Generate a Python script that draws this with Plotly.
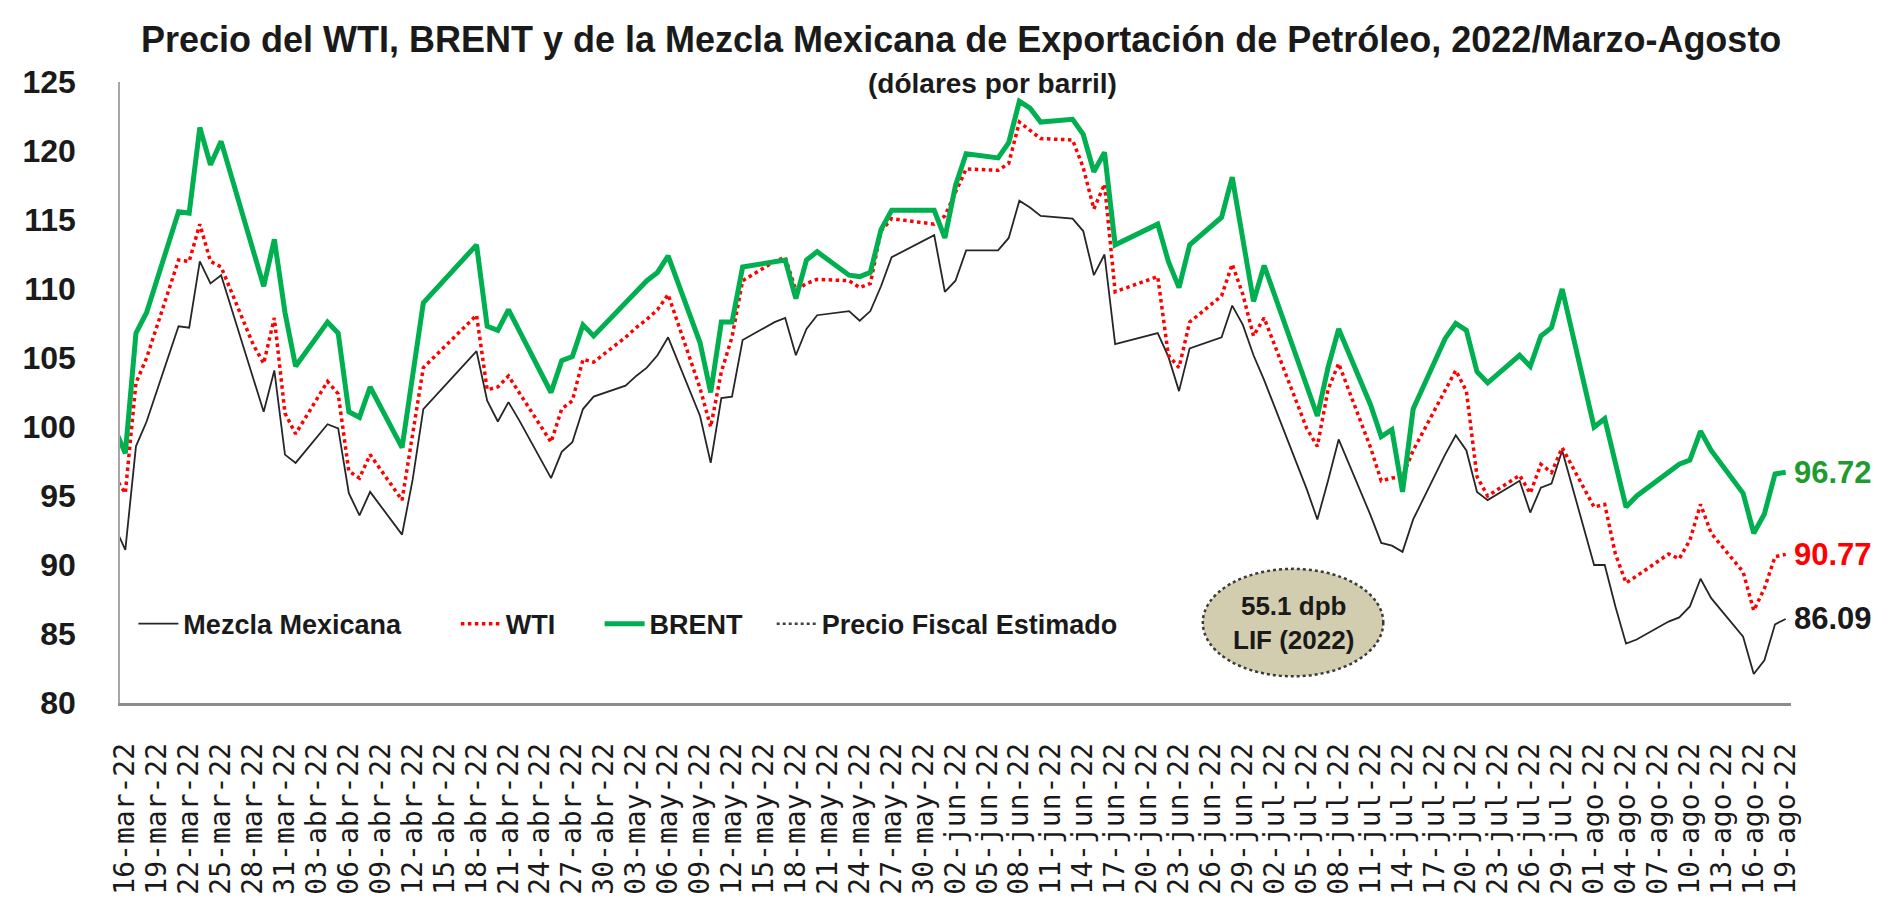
import plotly.graph_objects as go

# Días hábiles con cotización (mar-ago 2022)
DATES = [
    "2022-03-15", "2022-03-16", "2022-03-17", "2022-03-18", "2022-03-21", "2022-03-22",
    "2022-03-23", "2022-03-24", "2022-03-25", "2022-03-28", "2022-03-29", "2022-03-30",
    "2022-03-31",
    "2022-04-01", "2022-04-04", "2022-04-05", "2022-04-06", "2022-04-07", "2022-04-08",
    "2022-04-11", "2022-04-12", "2022-04-13", "2022-04-18", "2022-04-19", "2022-04-20",
    "2022-04-21", "2022-04-22", "2022-04-25", "2022-04-26", "2022-04-27", "2022-04-28",
    "2022-04-29",
    "2022-05-02", "2022-05-03", "2022-05-04", "2022-05-05", "2022-05-06", "2022-05-09",
    "2022-05-10", "2022-05-11", "2022-05-12", "2022-05-13", "2022-05-16", "2022-05-17",
    "2022-05-18", "2022-05-19", "2022-05-20", "2022-05-23", "2022-05-24", "2022-05-25",
    "2022-05-26", "2022-05-27", "2022-05-31",
    "2022-06-01", "2022-06-02", "2022-06-03", "2022-06-06", "2022-06-07", "2022-06-08",
    "2022-06-09", "2022-06-10", "2022-06-13", "2022-06-14", "2022-06-15", "2022-06-16",
    "2022-06-17", "2022-06-21", "2022-06-22", "2022-06-23", "2022-06-24", "2022-06-27",
    "2022-06-28", "2022-06-29", "2022-06-30",
    "2022-07-01", "2022-07-05", "2022-07-06", "2022-07-07", "2022-07-08", "2022-07-11",
    "2022-07-12", "2022-07-13", "2022-07-14", "2022-07-15", "2022-07-18", "2022-07-19",
    "2022-07-20", "2022-07-21", "2022-07-22", "2022-07-25", "2022-07-26", "2022-07-27",
    "2022-07-28", "2022-07-29",
    "2022-08-01", "2022-08-02", "2022-08-03", "2022-08-04", "2022-08-05", "2022-08-08",
    "2022-08-09", "2022-08-10", "2022-08-11", "2022-08-12", "2022-08-15", "2022-08-16",
    "2022-08-17", "2022-08-18", "2022-08-19",
]

MEZCLA = [
    92.8, 91.1, 98.6, 100.4, 107.3, 107.2, 112.0, 110.4, 111.0, 103.7, 101.1, 104.1, 98.0,
    97.4, 100.2, 99.9, 95.2, 93.6, 95.3, 92.2, 96.2, 101.3, 105.5, 101.9, 100.4, 101.8,
    100.5, 96.3, 98.2, 98.9, 101.3, 102.2,
    103.0, 103.7, 104.3, 105.2, 106.5, 100.8, 97.4, 102.1, 102.2, 106.3, 107.6, 107.9,
    105.2, 107.1, 108.1, 108.4, 107.7, 108.4, 110.2, 112.3, 113.9,
    109.8, 110.6, 112.8, 112.8, 113.7, 116.4, 115.9, 115.3, 115.1, 114.2, 111.0, 112.5,
    106.0, 106.8, 105.1, 102.6, 105.7, 106.5, 108.8, 107.4, 105.2,
    103.4, 95.5, 93.3, 96.1, 99.1, 93.6, 91.6, 91.4, 90.95, 93.3, 98.0, 99.4, 98.3, 95.3,
    94.7, 96.1, 93.8, 95.6, 95.9, 98.3,
    90.0, 90.0, 87.0, 84.3, 84.6, 85.9, 86.2, 87.0, 89.0, 87.6, 84.8, 82.1, 83.1, 85.7,
    86.09,
]

WTI = [
    96.4, 95.2, 103.2, 105.0, 112.1, 112.0, 114.7, 112.0, 111.6, 106.0, 104.6, 107.9, 101.0,
    99.5, 103.3, 102.4, 96.8, 96.3, 98.0, 94.7, 99.5, 104.3, 108.1, 102.7, 102.9, 103.7,
    102.5, 98.9, 101.3, 101.9, 104.9, 104.7,
    106.5, 107.2, 107.8, 108.5, 109.6, 102.8, 100.0, 104.0, 106.5, 110.6, 112.0, 112.3,
    109.9, 110.4, 110.7, 110.6, 110.1, 110.4, 114.2, 115.1, 114.7,
    115.3, 117.0, 118.7, 118.6, 119.1, 122.1, 121.5, 120.9, 120.8, 118.8, 115.8, 117.6,
    109.8, 110.9, 105.2, 104.3, 107.6, 109.5, 111.8, 109.6, 106.6,
    107.9, 99.9, 98.6, 102.7, 104.6, 98.5, 96.1, 96.3, 96.4, 98.3, 102.6, 104.1, 102.6,
    96.4, 95.0, 96.5, 95.2, 97.3, 96.7, 98.5,
    94.2, 94.4, 90.8, 88.7, 89.2, 90.8, 90.45, 91.8, 94.4, 92.3, 89.5, 86.7, 88.3, 90.6,
    90.77,
]

BRENT = [
    99.9, 98.1, 106.8, 108.3, 115.6, 115.5, 121.7, 119.0, 120.7, 112.6, 110.2, 113.6, 108.3,
    104.4, 107.6, 106.8, 101.1, 100.7, 102.9, 98.5, 104.0, 109.0, 113.2, 107.3, 107.0,
    108.5, 107.0, 102.5, 104.8, 105.1, 107.4, 106.6,
    109.0, 109.8, 110.6, 111.2, 112.4, 106.1, 102.5, 107.6, 107.6, 111.6, 112.0, 112.1,
    109.3, 112.1, 112.7, 111.0, 110.9, 111.2, 114.3, 115.7, 115.7,
    113.7, 117.5, 119.8, 119.5, 120.6, 123.6, 123.1, 122.1, 122.3, 121.2, 118.5, 119.9,
    113.2, 114.7, 112.0, 110.1, 113.2, 115.2, 118.1, 113.6, 109.1,
    111.7, 103.0, 100.8, 104.3, 107.1, 101.6, 99.3, 99.8, 95.3, 101.3, 106.4, 107.5,
    107.0, 104.0, 103.2, 105.2, 104.4, 106.6, 107.2, 110.0,
    100.0, 100.6, 97.2, 94.2, 95.0, 96.8, 97.3, 97.6, 99.7, 98.3, 95.2, 92.3, 93.7, 96.6,
    96.72,
]

PRECIO_FISCAL = 55.1  # dpb, LIF 2022

TICK_LABELS = [
    "16-mar-22", "19-mar-22", "22-mar-22", "25-mar-22", "28-mar-22", "31-mar-22",
    "03-abr-22", "06-abr-22", "09-abr-22", "12-abr-22", "15-abr-22", "18-abr-22",
    "21-abr-22", "24-abr-22", "27-abr-22", "30-abr-22",
    "03-may-22", "06-may-22", "09-may-22", "12-may-22", "15-may-22", "18-may-22",
    "21-may-22", "24-may-22", "27-may-22", "30-may-22",
    "02-jun-22", "05-jun-22", "08-jun-22", "11-jun-22", "14-jun-22", "17-jun-22",
    "20-jun-22", "23-jun-22", "26-jun-22", "29-jun-22",
    "02-jul-22", "05-jul-22", "08-jul-22", "11-jul-22", "14-jul-22", "17-jul-22",
    "20-jul-22", "23-jul-22", "26-jul-22", "29-jul-22",
    "01-ago-22", "04-ago-22", "07-ago-22", "10-ago-22", "13-ago-22", "16-ago-22",
    "19-ago-22",
]

MESES = {"mar": 3, "abr": 4, "may": 5, "jun": 6, "jul": 7, "ago": 8}


def tick_value(label):
    day, mes, year = label.split("-")
    return f"20{year}-{MESES[mes]:02d}-{day}"


SANS = "Liberation Sans, Arial, sans-serif"
MONO = "DejaVu Sans Mono, Liberation Mono, monospace"
LEGEND_FONT = dict(family=SANS, size=27, color="#1A1A1A", weight="bold")

fig = go.Figure()

fig.add_trace(go.Scatter(
    x=DATES, y=[PRECIO_FISCAL] * len(DATES),
    name="Precio Fiscal Estimado", mode="lines",
    line=dict(color="#404040", width=2.5, dash="dot"),
    legend="legend4",
))
fig.add_trace(go.Scatter(
    x=DATES, y=MEZCLA, name="Mezcla Mexicana", mode="lines",
    line=dict(color="#262626", width=1.8),
    legend="legend",
))
fig.add_trace(go.Scatter(
    x=DATES, y=WTI, name="WTI", mode="lines",
    line=dict(color="#FF0000", width=3.5, dash="dot"),
    legend="legend2",
))
fig.add_trace(go.Scatter(
    x=DATES, y=BRENT, name="BRENT", mode="lines",
    line=dict(color="#00B050", width=5),
    legend="legend3",
))

# etiquetas del último dato
for values, color in ((BRENT, "#1E9B2E"), (WTI, "#FF0000"), (MEZCLA, "#1A1A1A")):
    fig.add_annotation(
        x=DATES[-1], y=values[-1], text=f"{values[-1]:.2f}",
        showarrow=False, xanchor="left", yanchor="middle", xshift=6,
        font=dict(family=SANS, size=31, color=color, weight="bold"),
    )

# óvalo del precio fiscal
fig.add_shape(
    type="circle", xref="paper", yref="paper",
    x0=0.648, x1=0.756, y0=0.043, y1=0.216,
    fillcolor="#D2CDAE", line=dict(color="#3A3A3A", width=2.5, dash="dot"),
    layer="above",
)
fig.add_annotation(
    xref="paper", yref="paper", x=0.702, y=0.129,
    xanchor="center", yanchor="middle",
    text="55.1 dpb<br>LIF (2022)", showarrow=False,
    font=dict(family=SANS, size=26, color="#1A1A1A", weight="bold"),
    align="center",
)

fig.add_annotation(
    xref="paper", yref="paper", x=0.522, y=0.998,
    xanchor="center", yanchor="middle",
    text="(dólares por barril)", showarrow=False,
    font=dict(family=SANS, size=28, color="#1A1A1A", weight="bold"),
)


def legend_at(x):
    return dict(
        orientation="h", x=x, xanchor="left", y=0.127, yanchor="middle",
        bgcolor="rgba(0,0,0,0)", font=LEGEND_FONT, itemwidth=40,
    )


fig.update_layout(
    width=1880, height=907,
    title=dict(
        text="Precio del WTI, BRENT y de la Mezcla Mexicana de Exportación de Petróleo, 2022/Marzo-Agosto",
        x=0.507, xanchor="center", y=0.965, yanchor="middle",
        font=dict(family=SANS, size=36, color="#1A1A1A", weight="bold"),
    ),
    margin=dict(l=112, r=97, t=74, b=212),
    paper_bgcolor="white",
    plot_bgcolor="white",
    showlegend=True,
    legend=legend_at(0.008),
    legend2=legend_at(0.201),
    legend3=legend_at(0.287),
    legend4=legend_at(0.390),
    xaxis=dict(
        type="date",
        range=["2022-03-15 12:00", "2022-08-19 12:00"],
        tickvals=[tick_value(t) for t in TICK_LABELS],
        ticktext=TICK_LABELS,
        tickangle=-90,
        tickfont=dict(family=MONO, size=28, color="#1A1A1A"),
        ticks="",
        ticklabelstandoff=26,
        showgrid=False, zeroline=False,
        showline=True, linecolor="#8C8C8C", linewidth=2.5,
    ),
    yaxis=dict(
        range=[80, 125],
        tickvals=[80, 85, 90, 95, 100, 105, 110, 115, 120, 125],
        tickfont=dict(family=SANS, size=32, color="#1A1A1A", weight="bold"),
        ticks="",
        ticklabelstandoff=36,
        showgrid=False, zeroline=False,
        showline=True, linecolor="#A6A6A6", linewidth=1.5,
    ),
)

fig.write_html("out.html")
